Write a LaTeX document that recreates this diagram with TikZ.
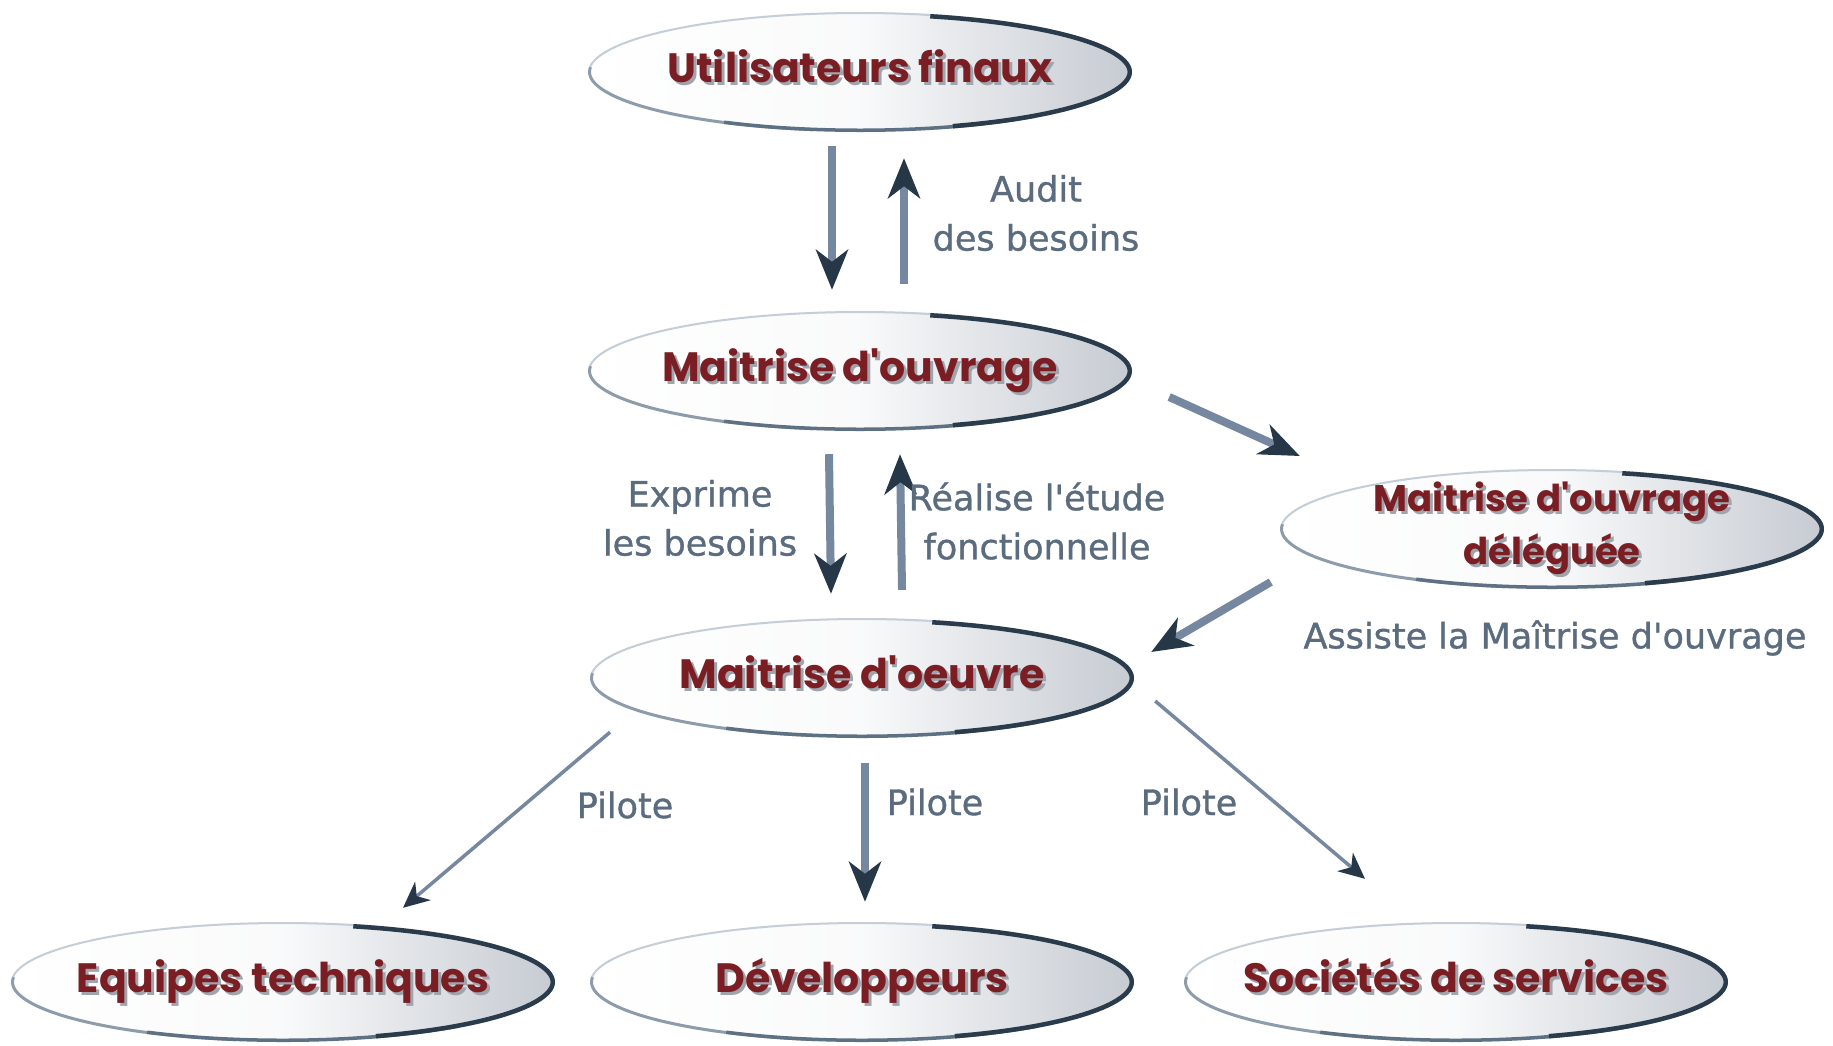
\documentclass[tikz,border=0pt]{standalone}
\usepackage{fontspec}
\usetikzlibrary{arrows.meta,shapes.geometric}
\newfontfamily\titlefont{Poppins}
\newfontfamily\labelfont{DejaVu Sans}[FakeBold=1]
\definecolor{titlered}{HTML}{7A1E24}
\definecolor{titleshadow}{HTML}{A0A4AC}
\definecolor{rimdark}{HTML}{2A3B4C}
\definecolor{rimmid}{HTML}{5E7083}
\definecolor{rimsoft}{HTML}{8D9CAB}
\definecolor{rimlight}{HTML}{C4CED8}
\definecolor{ovalgray}{HTML}{C6CBD2}
\definecolor{labelcol}{HTML}{5B6C7E}
\definecolor{shaftcol}{HTML}{7688A0}
\definecolor{headcol}{HTML}{263848}
% title text with a soft offset shadow behind it; zero width so the oval keeps its size
\newcommand\withshadow[1]{\makebox[0pt]{\rlap{\kern3pt\raisebox{-3pt}{\textcolor{titleshadow}{#1}}}#1}}

\begin{document}
\begin{tikzpicture}[x=1pt,y=-1pt,
  oval/.style={ellipse, minimum width=544pt, minimum height=120pt, inner sep=0pt,
    left color=white, right color=ovalgray, middle color=white!90!ovalgray,
    path picture={
      \draw[rimlight, line width=4pt] (path picture bounding box.center)
        ++(70:272pt and 60pt) arc[start angle=70, end angle=175, x radius=272pt, y radius=60pt];
      \draw[rimsoft, line width=6pt] (path picture bounding box.center)
        ++(-185:272pt and 60pt) arc[start angle=-185, end angle=-100, x radius=272pt, y radius=60pt];
      \draw[rimmid, line width=7pt] (path picture bounding box.center)
        ++(-120:272pt and 60pt) arc[start angle=-120, end angle=-50, x radius=272pt, y radius=60pt];
      \draw[rimdark, line width=9pt] (path picture bounding box.center)
        ++(-70:272pt and 60pt) arc[start angle=-70, end angle=75, x radius=272pt, y radius=60pt];
    },
    text=titlered, align=center,
    font=\titlefont\bfseries\fontsize{41}{48}\selectfont},
  oneline/.style={text height=30pt, text depth=10pt},
  twolines/.style={text height=71pt, text depth=0pt,
    font=\titlefont\bfseries\fontsize{37}{53}\selectfont},
  lbl/.style={text=labelcol, align=center, inner sep=0pt,
    font=\labelfont\fontsize{35}{49}\selectfont},
  bigarrow/.style={draw=shaftcol, line width=8pt,
    -{Stealth[length=40pt, width=32pt, inset=12pt, color=headcol]}},
  thinarrow/.style={draw=shaftcol, line width=3.5pt,
    -{Stealth[length=26pt, width=24pt, inset=8pt, color=headcol]}}
]
\fill[white] (0,0) rectangle (1833,1045);
\useasboundingbox (0,0) rectangle (1833,1045);

% actors
\node[oval, oneline] (e1) at (860,72)  {\withshadow{Utilisateurs finaux}};
\node[oval, oneline] (e2) at (860,371) {\withshadow{Maitrise d'ouvrage}};
\node[oval, twolines] (e3) at (1552,529)
  {\withshadow{Maitrise d'ouvrage}\\\withshadow{déléguée}};
\node[oval, oneline] (e4) at (862,678) {\withshadow{Maitrise d'oeuvre}};
\node[oval, oneline] (e5) at (283,982) {\withshadow{Equipes techniques}};
\node[oval, oneline] (e6) at (862,982) {\withshadow{Développeurs}};
\node[oval, oneline] (e7) at (1456,982) {\withshadow{Sociétés de services}};

% relations
\draw[bigarrow] ([shift={(-28,14)}]e1.south) -- ([shift={(-28,-21)}]e2.north);
\draw[bigarrow] ([shift={(44,-27)}]e2.north) -- ([shift={(44,26)}]e1.south);
\draw[bigarrow] ([shift={(-31,23)}]e2.south) -- ([shift={(-31,-24)}]e4.north);
\draw[bigarrow] ([shift={(40,-28)}]e4.north) -- ([shift={(40,23)}]e2.south);
\draw[bigarrow] ([shift={(37,26)}]e2.east) -- ([shift={(20,-73)}]e3.west);
\draw[bigarrow] ([shift={(-9,53)}]e3.west) -- ([shift={(17,-26)}]e4.east);
\draw[thinarrow] ([shift={(-252,-6)}]e4.south) -- ([shift={(120,-14)}]e5.north);
\draw[bigarrow] ([shift={(3,25)}]e4.south) -- ([shift={(3,-20)}]e6.north);
\draw[thinarrow] ([shift={(21,23)}]e4.east) -- ([shift={(-91,-43)}]e7.north);

% relation labels
\node[lbl] (audit) at (1036,213) {Audit\\des besoins};
\node[lbl] (exprime) at (700,518) {Exprime\\les besoins};
\node[lbl] (realise) at (1037,521) {Réalise l'étude\\fonctionnelle};
\node[lbl] (assiste) at (1555,638) {Assiste la Maîtrise d'ouvrage};
\node[lbl] (pilote1) at (625,805) {Pilote};
\node[lbl] (pilote2) at (935,802) {Pilote};
\node[lbl] (pilote3) at (1189,802) {Pilote};
\end{tikzpicture}
\end{document}
